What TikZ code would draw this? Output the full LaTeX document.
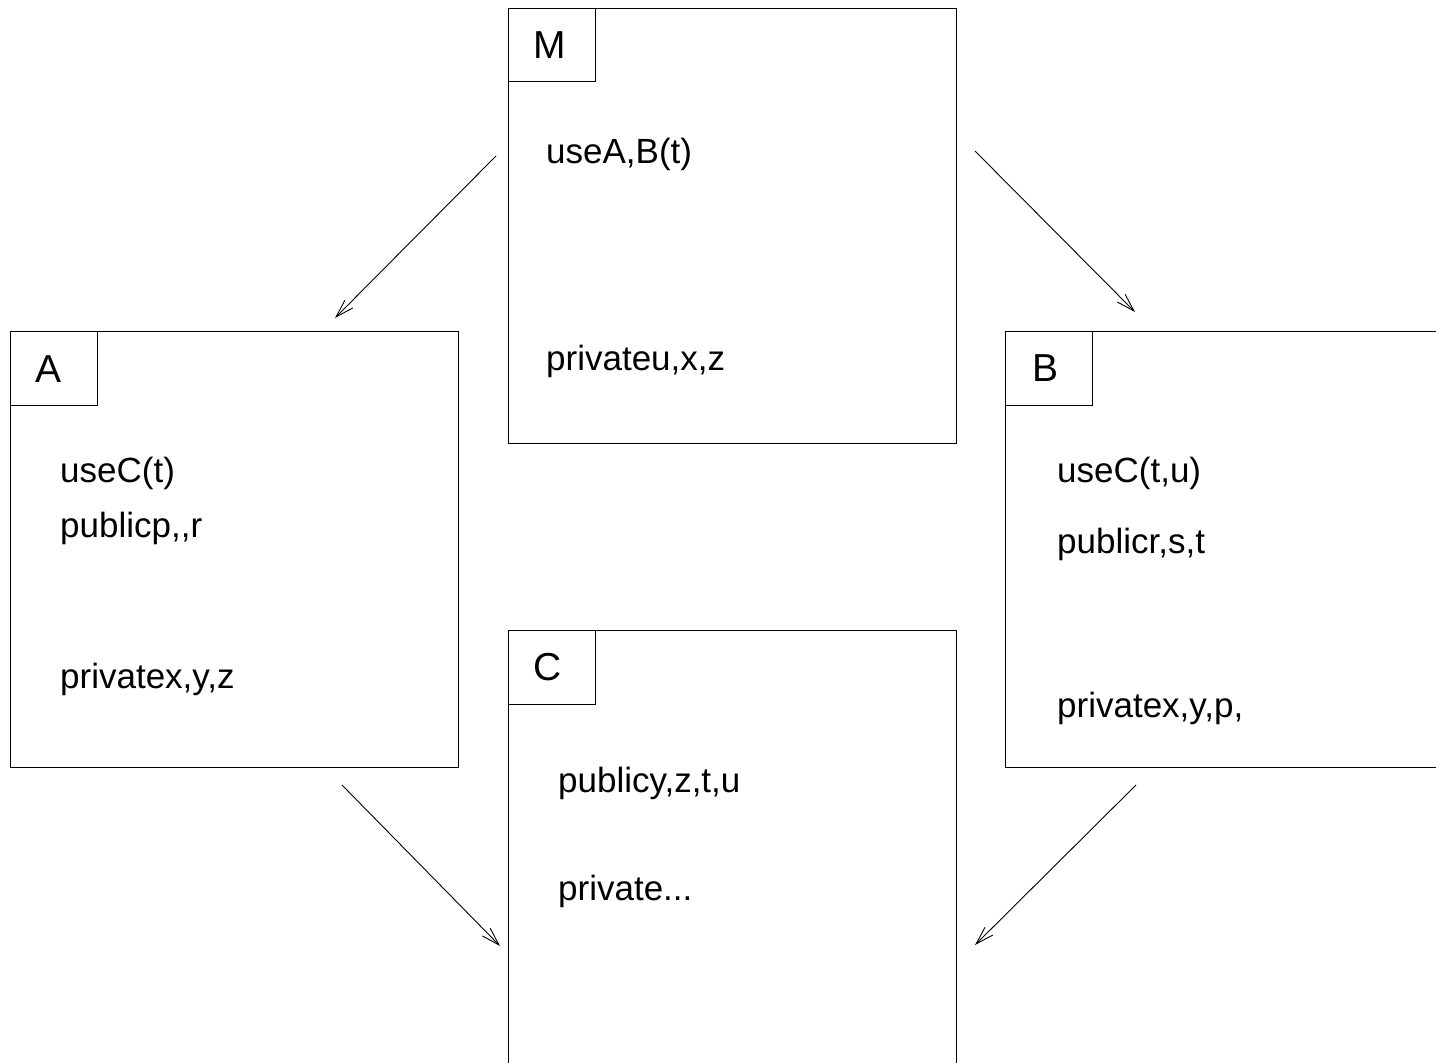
\documentclass[tikz,border=0pt]{standalone}
\usepackage{fontspec}
\setmainfont{Liberation Sans}
\usetikzlibrary{arrows.meta}
\begin{document}
\begin{tikzpicture}[x=1pt,y=-1pt,
  modbox/.style={draw=black,line width=1.2pt,anchor=north west,inner sep=0pt,minimum width=448pt,minimum height=436pt},
  tagbox/.style={draw=black,line width=1.2pt,anchor=north west,inner sep=0pt,minimum width=87pt,minimum height=74pt},
  txt/.style={anchor=base west,inner sep=0pt,font=\fontsize{35}{42}\selectfont},
  tag/.style={anchor=base west,inner sep=0pt,font=\fontsize{39}{46}\selectfont},
  dep/.style={line width=0.9pt,-{Straight Barb[length=18pt,width=11pt,line width=0.9pt]}}]
\useasboundingbox (0,0) rectangle (1436,1063);
\clip (0,0) rectangle (1436,1063);
% module boxes
\node[modbox,minimum height=435pt] (M) at (508,8) {};
\node[tagbox,minimum height=73pt] (Mt) at (508,8) {};
\node[tag] (Ml) at (533,58) {M};
\node[txt] (Mu) at (546,163) {useA,B(t)};
\node[txt] (Mp) at (546,370) {privateu,x,z};

\node[modbox] (A) at (10,331) {};
\node[tagbox] (At) at (10,331) {};
\node[tag] (Al) at (35,382) {A};
\node[txt] (Au) at (60,482) {useC(t)};
\node[txt] (Apu) at (60,537) {publicp{,}{,}r};
\node[txt] (Apr) at (60,688) {privatex,y,z};

\node[modbox] (B) at (1005,331) {};
\node[tagbox] (Bt) at (1005,331) {};
\node[tag] (Bl) at (1032,381) {B};
\node[txt] (Bu) at (1057,482) {useC(t,u)};
\node[txt] (Bpu) at (1057,553) {publicr,s,t};
\node[txt] (Bpr) at (1057,717) {privatex,y,p,};

\node[modbox] (C) at (508,630) {};
\node[tagbox] (Ct) at (508,630) {};
\node[tag] (Cl) at (533,680) {C};
\node[txt] (Cpu) at (558,792) {publicy,z,t,u};
\node[txt] (Cpr) at (558,900) {private...};

% connector ends
\coordinate (mA0) at (496,156);
\coordinate (mA1) at (335,318);
\coordinate (mB0) at (975,151);
\coordinate (mB1) at (1135,312);
\coordinate (aC0) at (342,785);
\coordinate (aC1) at (500,946);
\coordinate (bC0) at (1136,785);
\coordinate (bC1) at (975,945);
\draw[dep] (mA0) -- (mA1);
\draw[dep] (mB0) -- (mB1);
\draw[dep] (aC0) -- (aC1);
\draw[dep] (bC0) -- (bC1);
\end{tikzpicture}
\end{document}
